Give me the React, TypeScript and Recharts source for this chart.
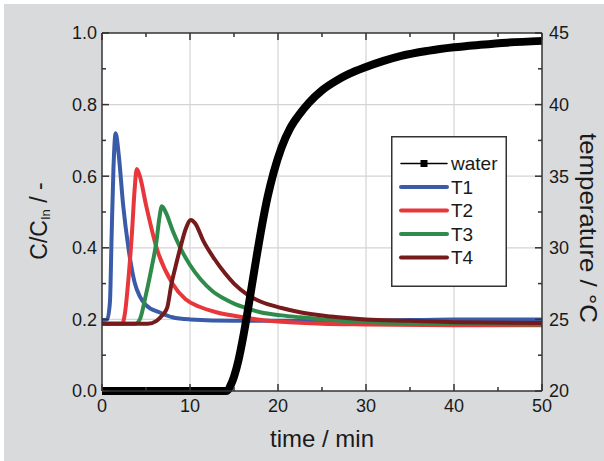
import { LineChart, Line, XAxis, YAxis, ReferenceLine, Legend, Label } from "recharts";

// tick values
const timeTicks = [0, 5, 10, 15, 20, 25, 30, 35, 40, 45, 50];
const cTicks = [0, 0.1, 0.2, 0.3, 0.4, 0.5, 0.6, 0.7, 0.8, 0.9, 1.0];
const tempTicks = [20, 22.5, 25, 27.5, 30, 32.5, 35, 37.5, 40, 42.5, 45];
const gridTimes = [10, 20, 30, 40];
const gridC = [0.2, 0.4, 0.6, 0.8];

// water breakthrough, C/C_In (left axis)
const waterTime = [0, 5, 10, 14.2, 14.6, 15.0, 15.5, 16.0, 16.4, 17.0, 17.6, 18.2, 18.8, 19.5, 20.4, 21.4, 22.5, 23.5, 25, 26.5, 28, 30, 32, 34, 37, 40, 43, 46, 50];
const waterC = [0, 0, 0, 0, 0.015, 0.04, 0.085, 0.145, 0.2, 0.29, 0.38, 0.465, 0.54, 0.61, 0.68, 0.735, 0.775, 0.805, 0.84, 0.865, 0.885, 0.905, 0.922, 0.936, 0.95, 0.96, 0.967, 0.973, 0.978];

// temperatures, °C (right axis)
const t1Time = [0, 0.6, 0.9, 1.1, 1.3, 1.55, 1.9, 2.4, 3.0, 3.7, 4.3, 5.0, 6.5, 8, 10, 15, 20, 30, 40, 50];
const t1Temp = [24.95, 25.0, 26.2, 31.0, 35.5, 38.0, 36.5, 33.0, 30.0, 27.6, 26.6, 26.0, 25.5, 25.15, 25.0, 24.9, 24.9, 24.9, 25.0, 25.0];

const t2Time = [0, 2.3, 2.6, 3.0, 3.4, 3.7, 3.95, 4.3, 5.0, 6.2, 8.0, 9.5, 11, 13, 15, 20, 25, 30, 40, 50];
const t2Temp = [24.7, 24.7, 25.4, 27.8, 31.0, 34.0, 35.5, 35.0, 33.0, 30.0, 27.5, 26.4, 25.9, 25.5, 25.25, 24.85, 24.7, 24.65, 24.6, 24.6];

const t3Time = [0, 3.8, 4.3, 5.0, 5.6, 6.2, 6.5, 6.8, 7.3, 8.0, 8.9, 10, 11.2, 12.5, 14, 15, 16.6, 18, 20.4, 22.5, 27, 30, 40, 50];
const t3Temp = [24.7, 24.7, 25.0, 26.75, 28.5, 30.5, 32.0, 32.9, 32.4, 31.25, 30.0, 28.8, 27.8, 27.0, 26.4, 26.1, 25.75, 25.5, 25.28, 25.15, 24.92, 24.82, 24.7, 24.65];

const t4Time = [0, 5.2, 6.2, 6.8, 7.4, 7.9, 8.4, 8.9, 9.5, 10.1, 10.6, 11.5, 12.8, 14, 15, 16.6, 18, 20.4, 22.5, 26, 30, 35, 40, 50];
const t4Temp = [24.7, 24.7, 24.9, 25.25, 25.8, 27.5, 28.8, 30.0, 31.3, 31.95, 31.7, 30.5, 29.2, 28.2, 27.5, 26.7, 26.25, 25.8, 25.5, 25.2, 25.0, 24.9, 24.8, 24.75];

const legendOrder = ["water", "T1", "T2", "T3", "T4"];

const zip = (ts: number[], vs: number[]) => ts.map((t, i) => ({ t, v: vs[i] }));

const AXIS = "#333";
const TEXT = "#1a1a1a";
const GRID = "#d4d4d6";
const FONT = "'Liberation Sans', Arial, sans-serif";

const isMajor = (v: number, step: number) => Math.abs(v / step - Math.round(v / step)) < 1e-6;

function LeftTick(p: any) {
  const v = p.payload.value;
  const major = isMajor(v, 0.2);
  return (
    <g>
      <line x1={p.x} x2={p.x + (major ? 7 : 4)} y1={p.y} y2={p.y} stroke={AXIS} strokeWidth={1.5} />
      {major && (
        <text x={p.x - 5} y={p.y} dy="0.36em" textAnchor="end" fontSize={18} fill={TEXT} fontFamily={FONT}>
          {v.toFixed(1)}
        </text>
      )}
    </g>
  );
}

function RightTick(p: any) {
  const v = p.payload.value;
  const major = isMajor(v, 5);
  return (
    <g>
      <line x1={p.x} x2={p.x - (major ? 7 : 4)} y1={p.y} y2={p.y} stroke={AXIS} strokeWidth={1.5} />
      {major && (
        <text x={p.x + 7} y={p.y} dy="0.36em" textAnchor="start" fontSize={18} fill={TEXT} fontFamily={FONT}>
          {v}
        </text>
      )}
    </g>
  );
}

function BottomTick(p: any) {
  const v = p.payload.value;
  const major = isMajor(v, 10);
  return (
    <g>
      <line x1={p.x} x2={p.x} y1={p.y} y2={p.y - (major ? 7 : 4)} stroke={AXIS} strokeWidth={1.5} />
      {major && (
        <text x={p.x} y={p.y + 21} textAnchor="middle" fontSize={18} fill={TEXT} fontFamily={FONT}>
          {v}
        </text>
      )}
    </g>
  );
}

function TopTick(p: any) {
  const major = isMajor(p.payload.value, 10);
  return <line x1={p.x} x2={p.x} y1={p.y} y2={p.y + (major ? 7 : 4)} stroke={AXIS} strokeWidth={1.5} />;
}

function LegendBox(props: any) {
  const items = [...(props.payload ?? [])].sort(
    (a: any, b: any) => legendOrder.indexOf(a.value) - legendOrder.indexOf(b.value)
  );
  return (
    <svg width={116} height={151} style={{ display: "block" }}>
      <rect x={0.75} y={0.75} width={114.5} height={149.5} fill="#fff" stroke={AXIS} strokeWidth={1.5} />
      {items.map((it: any, i: number) => {
        const cy = 27.5 + i * 23.5;
        const isWater = it.value === "water";
        return (
          <g key={it.value}>
            <line x1={10} x2={56} y1={cy} y2={cy} stroke={it.color} strokeWidth={isWater ? 1.5 : 4} strokeLinecap="round" />
            {isWater && <rect x={29.5} y={cy - 3.5} width={7} height={7} fill="#000" />}
            <text x={60} y={cy} dy="0.36em" fontSize={19} fill={TEXT} fontFamily={FONT}>
              {it.value}
            </text>
          </g>
        );
      })}
    </svg>
  );
}

export default function App() {
  const axisLine = { stroke: AXIS, strokeWidth: 1.5 };
  return (
    <div style={{ position: "absolute", left: 0, top: 0, width: 604, height: 461, background: "#fff" }}>
      <div style={{ position: "absolute", left: 4, top: 4, right: 0, bottom: 0, background: "#d9dadc" }} />
      <LineChart width={604} height={461} margin={{ top: 3, right: 0, bottom: 30, left: 42 }} style={{ position: "absolute", left: 0, top: 0 }}>
        <rect x={102} y={33} width={440} height={358} fill="#fff" />
        <XAxis xAxisId="b" dataKey="t" type="number" domain={[0, 50]} ticks={timeTicks} tick={<BottomTick />}
          tickSize={0} tickMargin={0} tickLine={false} axisLine={axisLine} height={40} interval={0}>
          <Label content={() => (
            <text x={322} y={447} textAnchor="middle" fontSize={24} fill={TEXT} fontFamily={FONT}>time / min</text>
          )} />
        </XAxis>
        <XAxis xAxisId="top" orientation="top" dataKey="t" type="number" domain={[0, 50]} ticks={timeTicks} tick={<TopTick />}
          tickSize={0} tickMargin={0} tickLine={false} axisLine={axisLine} height={30} interval={0} allowDataOverflow />
        <YAxis yAxisId="c" type="number" domain={[0, 1]} ticks={cTicks} tick={<LeftTick />}
          tickSize={0} tickMargin={0} tickLine={false} axisLine={axisLine} width={60} interval={0}>
          <Label content={() => (
            <text transform="translate(47,221) rotate(-90)" textAnchor="middle" fontSize={23} fill={TEXT} fontFamily={FONT}>
              C/C<tspan dy={3} fontSize={13}>In</tspan><tspan dy={-3}> / -</tspan>
            </text>
          )} />
        </YAxis>
        <YAxis yAxisId="temp" orientation="right" type="number" domain={[20, 45]} ticks={tempTicks} tick={<RightTick />}
          tickSize={0} tickMargin={0} tickLine={false} axisLine={axisLine} width={62} interval={0}>
          <Label content={() => (
            <text transform="translate(580,228) rotate(90)" textAnchor="middle" fontSize={24} fill={TEXT} fontFamily={FONT}
              textLength={190} lengthAdjust="spacingAndGlyphs">
              temperature / °C
            </text>
          )} />
        </YAxis>
        {gridTimes.map(t => (
          <ReferenceLine key={"gx" + t} xAxisId="b" yAxisId="c" x={t} stroke={GRID} strokeWidth={1.2} />
        ))}
        {gridC.map(c => (
          <ReferenceLine key={"gy" + c} xAxisId="b" yAxisId="c" y={c} stroke={GRID} strokeWidth={1.2} />
        ))}
        <Line xAxisId="b" yAxisId="temp" data={zip(t1Time, t1Temp)} dataKey="v" name="T1" type="monotone"
          stroke="#3a5ba8" strokeWidth={4} dot={false} isAnimationActive={false} />
        <Line xAxisId="b" yAxisId="temp" data={zip(t2Time, t2Temp)} dataKey="v" name="T2" type="monotone"
          stroke="#e8373a" strokeWidth={4} dot={false} isAnimationActive={false} />
        <Line xAxisId="b" yAxisId="temp" data={zip(t3Time, t3Temp)} dataKey="v" name="T3" type="monotone"
          stroke="#2f8b4b" strokeWidth={4} dot={false} isAnimationActive={false} />
        <Line xAxisId="b" yAxisId="temp" data={zip(t4Time, t4Temp)} dataKey="v" name="T4" type="monotone"
          stroke="#761b1b" strokeWidth={4} dot={false} isAnimationActive={false} />
        <Line xAxisId="b" yAxisId="c" data={zip(waterTime, waterC)} dataKey="v" name="water" type="monotone"
          stroke="#000" strokeWidth={8} dot={false} isAnimationActive={false} />
        <Legend layout="vertical" align="center" verticalAlign="middle" content={<LegendBox />}
          wrapperStyle={{ left: 391, top: 136, width: 116, height: 151 }} />
      </LineChart>
    </div>
  );
}
